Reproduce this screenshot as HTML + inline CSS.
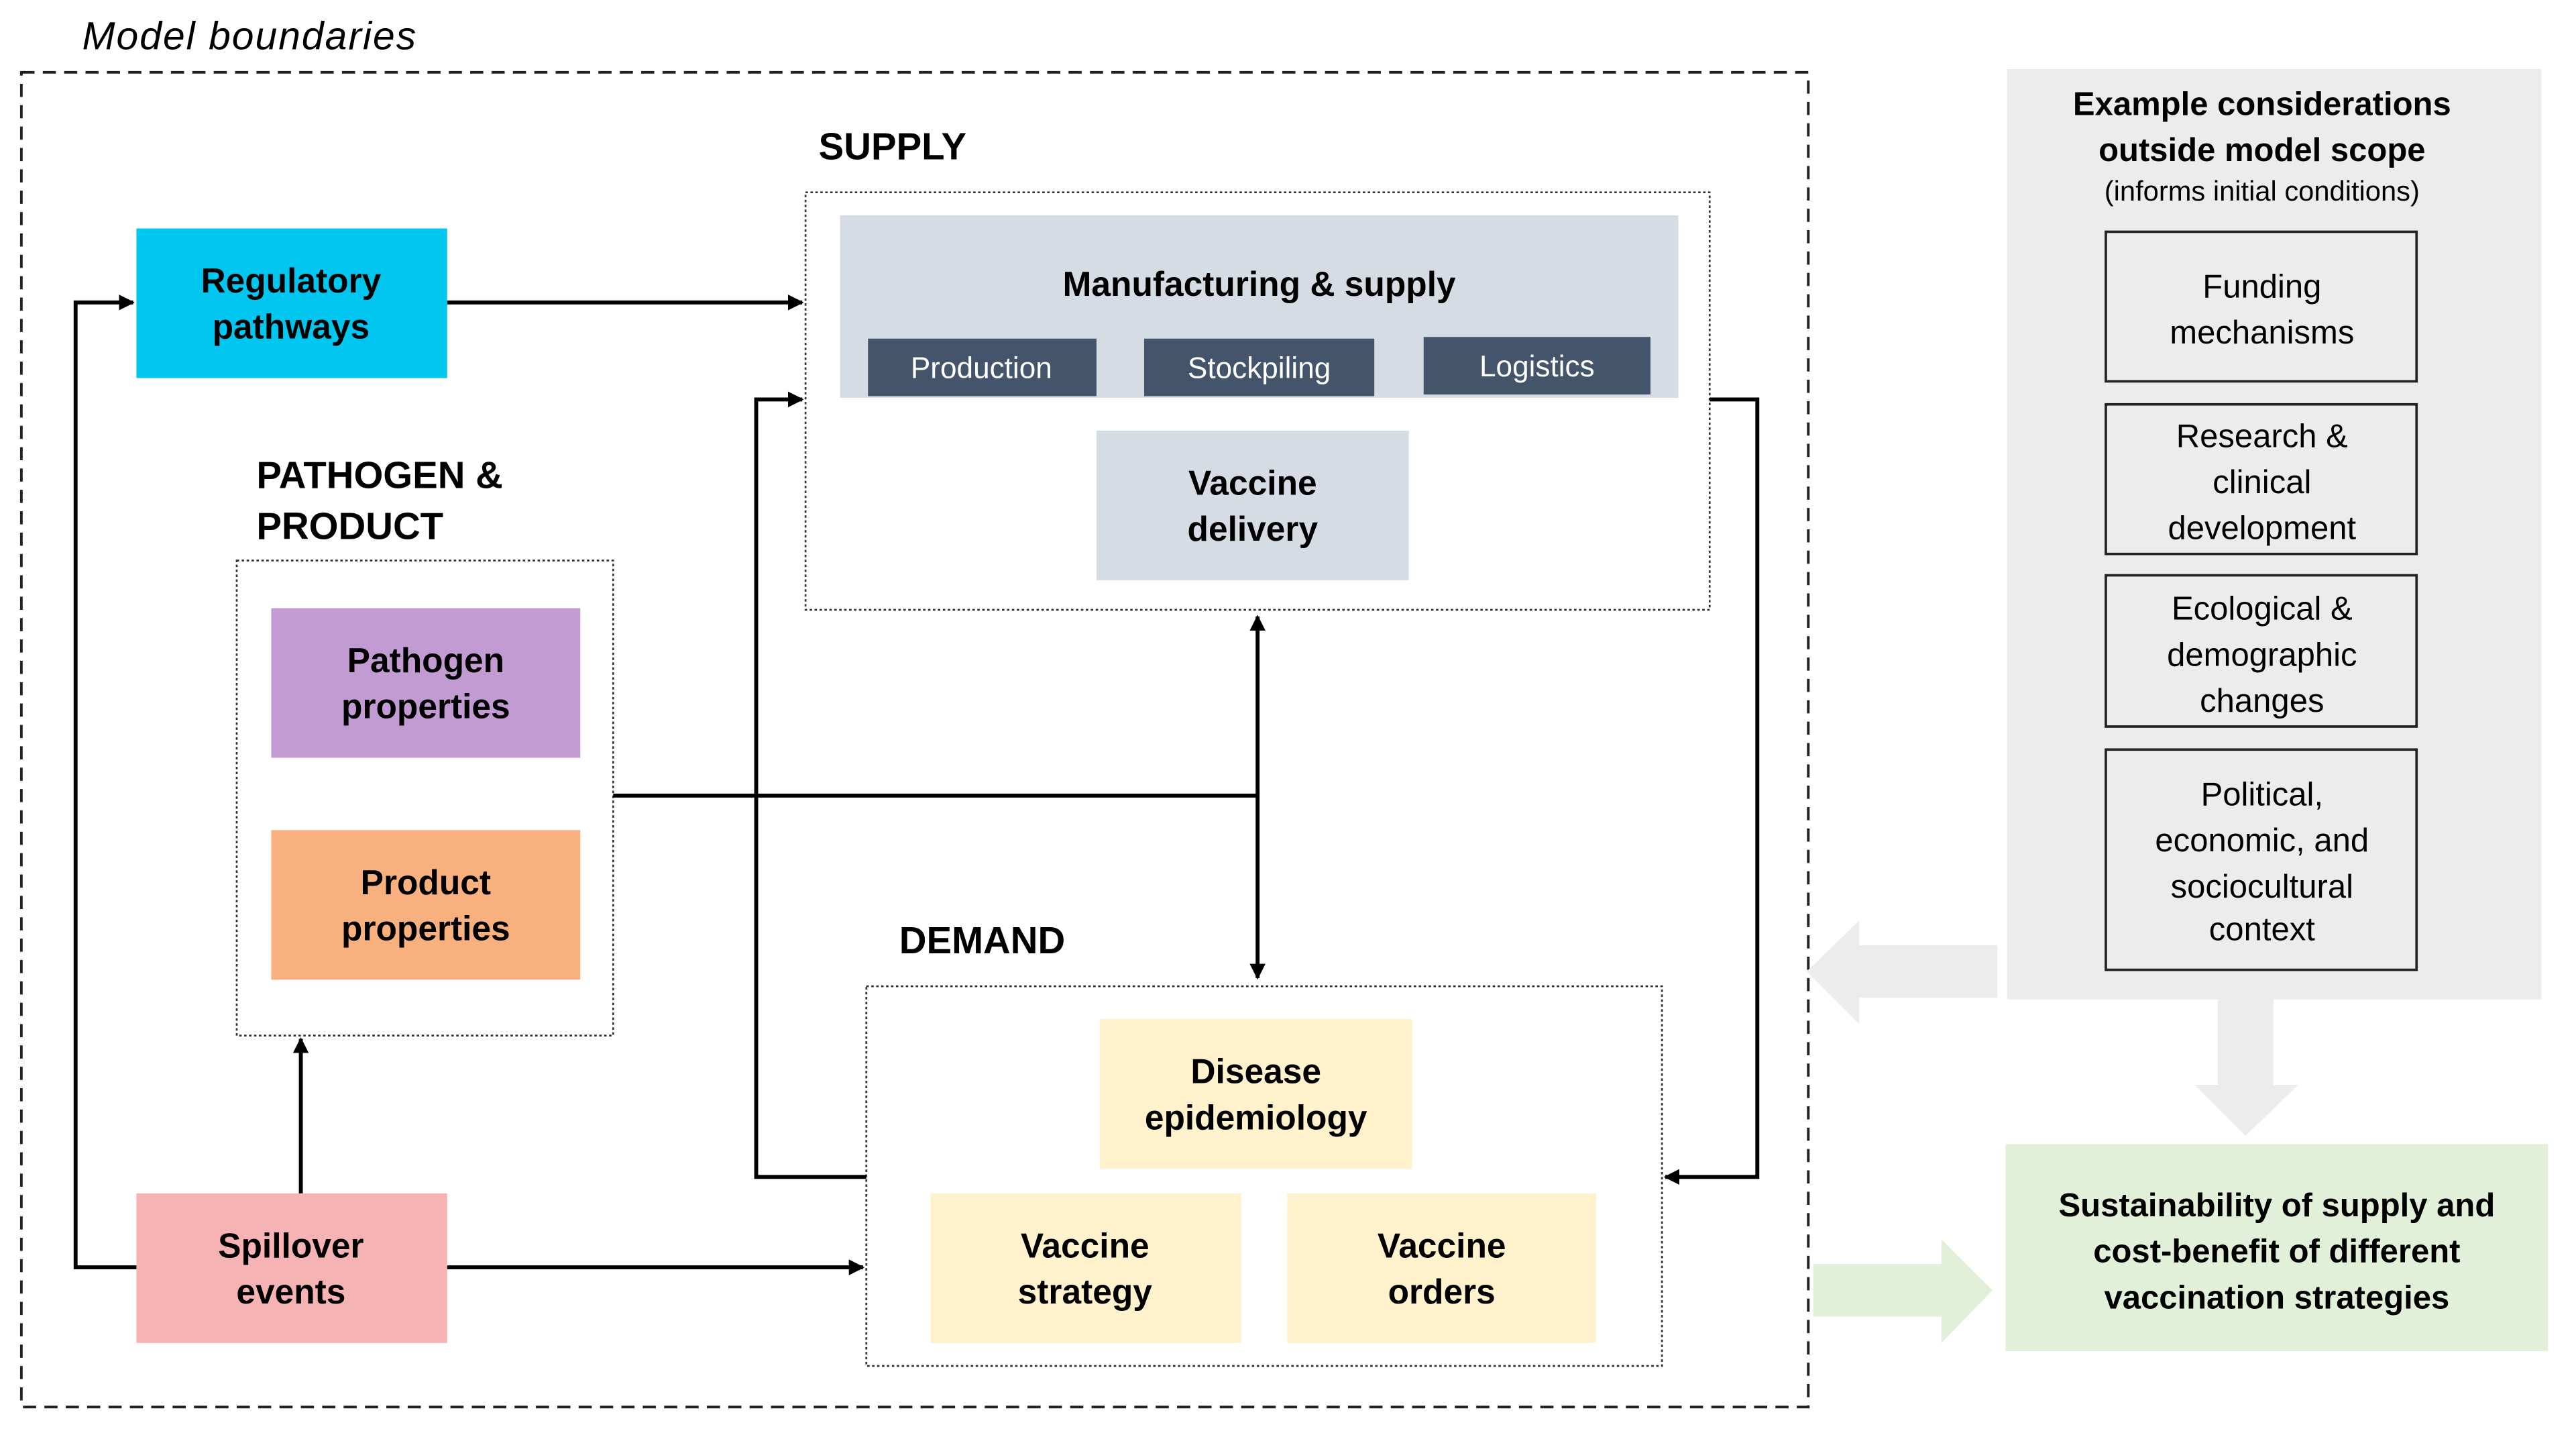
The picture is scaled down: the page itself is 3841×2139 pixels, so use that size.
<!DOCTYPE html>
<html><head><meta charset="utf-8"><style>html,body{margin:0;padding:0;background:#fff}svg{display:block}text{font-family:"Liberation Sans",Arial,sans-serif}</style></head>
<body>
<svg width="3841" height="2139" viewBox="0 0 1567 873" preserveAspectRatio="none" xmlns="http://www.w3.org/2000/svg">
<defs>
<marker id="a" viewBox="0 0 10 10" refX="9" refY="5" markerWidth="4" markerHeight="4" orient="auto-start-reverse"><path d="M0,0 L10,5 L0,10 z" fill="#000"/></marker>
</defs>
<rect width="1567" height="873" fill="#fff"/>
<text x="50" y="30" font-size="24" font-style="italic" textLength="203">Model boundaries</text>
<rect x="13" y="44" width="1087" height="812" fill="none" stroke="#222" stroke-width="1.6" stroke-dasharray="8,5"/>

<rect x="1221" y="42" width="325" height="566" fill="#ececec"/>
<g font-weight="bold" font-size="20" text-anchor="middle">
<text x="1376" y="70">Example considerations</text>
<text x="1376" y="98">outside model scope</text>
</g>
<text x="1376" y="122" font-size="17" text-anchor="middle">(informs initial conditions)</text>
<g fill="#ececec" stroke="#222" stroke-width="1.5">
<rect x="1281" y="141" width="189" height="91"/>
<rect x="1281" y="246" width="189" height="91"/>
<rect x="1281" y="350" width="189" height="92"/>
<rect x="1281" y="456" width="189" height="134"/>
</g>
<g font-size="20" text-anchor="middle">
<text x="1376" y="181">Funding</text><text x="1376" y="209">mechanisms</text>
<text x="1376" y="272">Research &amp;</text><text x="1376" y="300">clinical</text><text x="1376" y="328">development</text>
<text x="1376" y="377">Ecological &amp;</text><text x="1376" y="405">demographic</text><text x="1376" y="433">changes</text>
<text x="1376" y="490">Political,</text><text x="1376" y="518">economic, and</text><text x="1376" y="546">sociocultural</text><text x="1376" y="572">context</text>
</g>
<polygon points="1215,575 1131,575 1131,560 1099,591 1131,623 1131,607 1215,607" fill="#ececec"/>
<polygon points="1349,608 1383,608 1383,660 1398,660 1366,691 1335,660 1349,660" fill="#ececec"/>
<polygon points="1103,769 1181,769 1181,754 1212,785 1181,817 1181,801 1103,801" fill="#e2f0d9"/>
<rect x="1220" y="696" width="330" height="126" fill="#e2f0d9"/>
<g font-weight="bold" font-size="20" text-anchor="middle">
<text x="1385" y="740">Sustainability of supply and</text>
<text x="1385" y="768">cost-benefit of different</text>
<text x="1385" y="796">vaccination strategies</text>
</g>

<g font-weight="bold" font-size="23">
<text x="498" y="97">SUPPLY</text>
<text x="156" y="297">PATHOGEN &amp;</text>
<text x="156" y="328">PRODUCT</text>
<text x="547" y="580">DEMAND</text>
</g>

<g fill="none" stroke="#333" stroke-width="1.1" stroke-dasharray="1.5,1.5">
<rect x="490" y="117" width="550" height="254"/>
<rect x="144" y="341" width="229" height="289"/>
<rect x="527" y="600" width="484" height="231"/>
</g>

<g fill="none" stroke="#000" stroke-width="2.4">
<path d="M272,184 H488" marker-end="url(#a)"/>
<path d="M83,771 H46 V184 H81" marker-end="url(#a)"/>
<path d="M183,726 V632" marker-end="url(#a)"/>
<path d="M272,771 H525" marker-end="url(#a)"/>
<path d="M527,716 H460 V243 H488" marker-end="url(#a)"/>
<path d="M1040,243 H1069 V716 H1013" marker-end="url(#a)"/>
<path d="M373,484 H765"/>
<path d="M765,375 V595" marker-start="url(#a)" marker-end="url(#a)"/>
</g>

<rect x="511" y="131" width="510" height="111" fill="#d6dce4"/>
<text x="766" y="180" font-weight="bold" font-size="21" text-anchor="middle">Manufacturing &amp; supply</text>
<g fill="#44546a">
<rect x="528" y="206" width="139" height="35"/>
<rect x="696" y="206" width="140" height="35"/>
<rect x="866" y="205" width="138" height="35"/>
</g>
<g fill="#fff" font-size="18" text-anchor="middle">
<text x="597" y="230">Production</text>
<text x="766" y="230">Stockpiling</text>
<text x="935" y="229">Logistics</text>
</g>
<rect x="667" y="262" width="190" height="91" fill="#d6dce4"/>

<rect x="83" y="139" width="189" height="91" fill="#00c6f0"/>
<rect x="165" y="370" width="188" height="91" fill="#c39bd3"/>
<rect x="165" y="505" width="188" height="91" fill="#f8b07f"/>
<rect x="83" y="726" width="189" height="91" fill="#f5b3b3"/>
<rect x="669" y="620" width="190" height="91" fill="#fff2cc"/>
<rect x="566" y="726" width="189" height="91" fill="#fff2cc"/>
<rect x="783" y="726" width="188" height="91" fill="#fff2cc"/>

<g font-weight="bold" font-size="21" text-anchor="middle">
<text x="762" y="301">Vaccine</text><text x="762" y="329">delivery</text>
<text x="177" y="178">Regulatory</text><text x="177" y="206">pathways</text>
<text x="259" y="409">Pathogen</text><text x="259" y="437">properties</text>
<text x="259" y="544">Product</text><text x="259" y="572">properties</text>
<text x="177" y="765">Spillover</text><text x="177" y="793">events</text>
<text x="764" y="659">Disease</text><text x="764" y="687">epidemiology</text>
<text x="660" y="765">Vaccine</text><text x="660" y="793">strategy</text>
<text x="877" y="765">Vaccine</text><text x="877" y="793">orders</text>
</g>
</svg>
</body></html>
